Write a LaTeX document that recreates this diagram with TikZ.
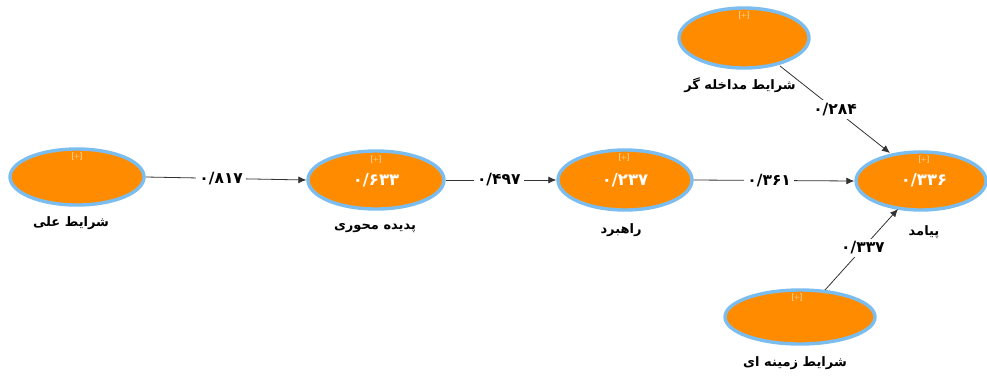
\documentclass[tikz,border=0pt]{standalone}
\usepackage{fontspec}
\usetikzlibrary{shapes.geometric,arrows.meta}
\TeXXeTstate=1
\newfontfamily\arabicfont[Script=Arabic]{DejaVu Sans}
\definecolor{fillor}{HTML}{FF8C00}
\definecolor{rimblue}{HTML}{7CBDF0}
\begin{document}
\begin{tikzpicture}[x=1pt,y=-1pt,
  latent/.style={ellipse, draw=rimblue, line width=3.4pt, fill=fillor, inner sep=0pt},
  plus/.style={font=\fontsize{7.5}{7.5}\selectfont\sffamily, text=white!92!fillor},
  val/.style={font=\arabicfont\bfseries\fontsize{16.5}{16.5}\selectfont, text=white},
  lbl/.style={font=\arabicfont\bfseries\fontsize{13}{13}\selectfont, text=black},
  coef/.style={font=\arabicfont\bfseries\fontsize{15.5}{15.5}\selectfont, fill=white, inner sep=3pt},
  link/.style={draw=black!80, line width=0.8pt, -{Latex[length=8pt,width=7pt]}}
]
\useasboundingbox (0,0) rectangle (987,375);
% ellipses
\node[latent, minimum width=134pt, minimum height=56pt] (e1) at (77,177) {};
\node[latent, minimum width=136pt, minimum height=58pt] (e2) at (376,180) {};
\node[latent, minimum width=134pt, minimum height=60pt] (e3) at (625,180) {};
\node[latent, minimum width=130pt, minimum height=58pt] (e4) at (921,181) {};
\node[latent, minimum width=130pt, minimum height=60pt] (e5) at (744,38) {};
\node[latent, minimum width=150pt, minimum height=54pt] (e6) at (800,317) {};
% [+] markers
\node[plus] (p1) at (77,157) {[+]};
\node[plus] (p2) at (376,160) {[+]};
\node[plus] (p3) at (624,158) {[+]};
\node[plus] (p4) at (924,160) {[+]};
\node[plus] (p5) at (744,16) {[+]};
\node[plus] (p6) at (797,298) {[+]};
% inner values
\node[val] (v2) at (376,180) {۰/۶۳۳};
\node[val] (v3) at (625,180) {۰/۲۳۷};
\node[val] (v4) at (924,180) {۰/۳۳۶};
% captions
\node[lbl] (c1) at (71,223) {\beginR شرایط علی\endR};
\node[lbl] (c2) at (375,228) {\beginR پدیده محوری\endR};
\node[lbl] (c3) at (621,230) {\beginR راهبرد\endR};
\node[lbl] (c4) at (924,232) {\beginR پیامد\endR};
\node[lbl] (c5) at (740,85) {\beginR شرایط مداخله گر\endR};
\node[lbl] (c6) at (795,363) {\beginR شرایط زمینه ای\endR};
% connectors
\draw[link] (e1.east) -- (e2.west) node[coef, pos=0.47] (k1) {۰/۸۱۷};
\draw[link] (e2.east) -- (e3.west) node[coef, pos=0.48] (k2) {۰/۴۹۷};
\draw[link] (e3.east) -- (e4.west) node[coef, pos=0.47] (k3) {۰/۳۶۱};
\coordinate (s5) at (780,66);
\coordinate (t5) at (890,153);
\draw[link] (s5) -- (t5) node[coef, pos=0.5] (k4) {۰/۲۸۴};
\coordinate (s6) at (825,290);
\coordinate (t6) at (898,209);
\draw[link] (s6) -- (t6) node[coef, pos=0.52] (k5) {۰/۳۳۷};
\end{tikzpicture}
\end{document}
